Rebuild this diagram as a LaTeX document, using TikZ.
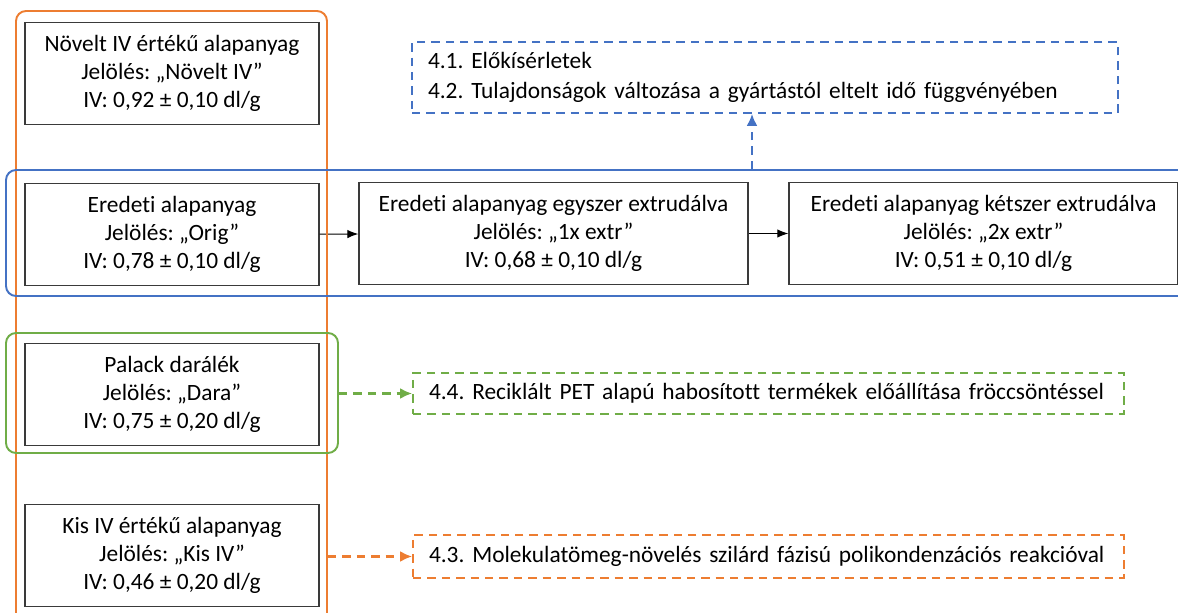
\documentclass[tikz,border=0pt]{standalone}
\usepackage{fontspec}
\setmainfont{Carlito}[Ligatures=NoCommon]
\usetikzlibrary{arrows.meta,calc,positioning}
\definecolor{narancs}{HTML}{ED7D31}
\definecolor{kek}{HTML}{4472C4}
\definecolor{zold}{HTML}{70AD47}
\definecolor{keret}{HTML}{3A3A3A}
\frenchspacing

\begin{document}
\begin{tikzpicture}[x=1cm,y=1cm,>=Latex,
    font=\fontsize{13.3}{15.9}\selectfont,
    anyag/.style={draw=keret,line width=0.75pt,fill=white,minimum height=2.04cm,align=center,inner sep=0pt},
    csoport/.style={draw=#1,line width=1.1pt,rounded corners=0.2cm,inner sep=0pt},
    fejezet/.style={draw=#1,line width=1.1pt,dash pattern=on 4.8pt off 3.4pt,inner xsep=0.32cm,inner ysep=0pt,align=left},
    nyil/.style={->,line width=0.6pt,>={Latex[length=2.2mm,width=1.7mm]}},
    szaggatott/.style={->,draw=#1,line width=1.2pt,dash pattern=on 4.8pt off 3.4pt,>={Latex[length=2.4mm,width=2.2mm]}}]
  \clip (0,0) rectangle (23.56,12.24);
  \node[anyag,minimum width=5.88cm] (novelt) at (3.44,10.77) {Növelt IV értékű alapanyag\\Jelölés: „Növelt IV”\\IV: 0,92 ± 0,10 dl/g};
  \node[anyag,minimum width=5.88cm] (orig) at (3.44,7.55) {Eredeti alapanyag\\Jelölés: „Orig”\\IV: 0,78 ± 0,10 dl/g};
  \node[anyag,minimum width=7.78cm] (egyszer) at (11.07,7.57) {Eredeti alapanyag egyszer extrudálva\\Jelölés: „1x extr”\\IV: 0,68 ± 0,10 dl/g};
  \node[anyag,minimum width=7.78cm] (ketszer) at (19.67,7.57) {Eredeti alapanyag kétszer extrudálva\\Jelölés: „2x extr”\\IV: 0,51 ± 0,10 dl/g};
  \node[anyag,minimum width=5.88cm] (dara) at (3.44,4.35) {Palack darálék\\Jelölés: „Dara”\\IV: 0,75 ± 0,20 dl/g};
  \node[anyag,minimum width=5.88cm] (kisiv) at (3.44,1.13) {Kis IV értékű alapanyag\\Jelölés: „Kis IV”\\IV: 0,46 ± 0,20 dl/g};
  \node[fejezet=kek,text width=13.48cm,minimum height=1.42cm] (elok) at (15.30,10.69) {4.1. Előkísérletek\\[1pt]4.2. Tulajdonságok változása a gyártástól eltelt idő függvényében};
  \node[fejezet=zold,text width=13.58cm,minimum height=0.82cm] (hab) at (15.37,4.37) {4.4. Reciklált PET alapú habosított termékek előállítása fröccsöntéssel};
  \node[fejezet=narancs,text width=13.58cm,minimum height=0.86cm] (molekula) at (15.37,1.11) {4.3. Molekulatömeg-növelés szilárd fázisú polikondenzációs reakcióval};
  \draw[nyil] (orig) -- (egyszer);
  \draw[nyil] (egyszer) -- (ketszer);
  % csoportkeretek
  \node[csoport=narancs,minimum width=6.22cm,minimum height=12.38cm] (narancskeret) at (3.43,5.83) {};
  \node[csoport=kek,minimum width=23.88cm,minimum height=2.52cm] (kekkeret) at (12.06,7.58) {};
  \node[csoport=zold,minimum width=6.64cm,minimum height=2.40cm] (zoldkeret) at (3.44,4.38) {};
  \coordinate (elokbe) at ([xshift=-0.26cm]elok.south);
  \draw[szaggatott=kek] (kekkeret.north -| elokbe) -- (elokbe);
  \draw[szaggatott=zold] (zoldkeret.east |- hab.west) -- (hab.west);
  \draw[szaggatott=narancs] (narancskeret.east |- molekula.west) -- (molekula.west);
\end{tikzpicture}
\end{document}
